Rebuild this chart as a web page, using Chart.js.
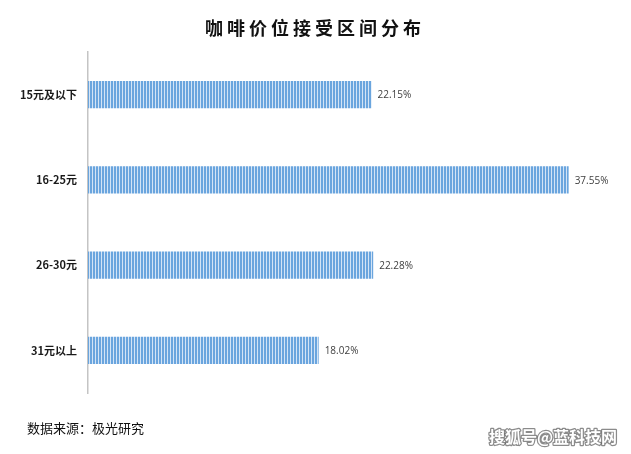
<!DOCTYPE html>
<html>
<head>
<meta charset="utf-8">
<script src="https://cdn.jsdelivr.net/npm/chart.js@4/dist/chart.umd.min.js"></script>
<style>
  html, body { margin: 0; padding: 0; background: #ffffff; }
  #wrap { width: 631px; height: 454px; position: relative; }
</style>
</head>
<body>
<div id="wrap"><canvas id="c" width="631" height="454"></canvas></div>
<script>
// Price bands and share of respondents (%)
const categories = ['15元及以下', '16-25元', '26-30元', '31元以上'];
const shares = [22.15, 37.55, 22.28, 18.02];
const titleText = '咖啡价位接受区间分布';
const sourceText = '数据来源：极光研究';
const watermarkText = '搜狐号@蓝科技网';

const CJK = '"Noto Sans CJK SC", "Noto Sans", sans-serif';

// Vertical pinstripe fill for the bars
function stripePattern(ctx) {
  const p = document.createElement('canvas');
  p.width = 3; p.height = 4;
  const g = p.getContext('2d');
  g.fillStyle = '#d3e4f6';
  g.fillRect(0, 0, 3, 4);
  g.fillStyle = '#6aa5de';
  g.fillRect(0, 0, 2, 4);
  return ctx.createPattern(p, 'repeat');
}

// Title, source note, watermark and value labels
const decorations = {
  id: 'decorations',
  afterDatasetsDraw(chart) {
    const ctx = chart.ctx;
    const meta = chart.getDatasetMeta(0);
    ctx.save();
    ctx.font = '10px "Open Sans", "Noto Sans", sans-serif';
    ctx.fillStyle = '#404040';
    ctx.textAlign = 'left';
    ctx.textBaseline = 'middle';
    meta.data.forEach((bar, i) => {
      ctx.fillText(shares[i].toFixed(2) + '%', bar.x + 6, bar.y + 1);
    });
    ctx.restore();
  },
  afterDraw(chart) {
    const ctx = chart.ctx;
    ctx.save();
    // title
    ctx.font = 'bold 18px ' + CJK;
    ctx.fillStyle = '#111111';
    ctx.textBaseline = 'middle';
    ctx.textAlign = 'left';
    ctx.letterSpacing = '4px';
    const w = ctx.measureText(titleText).width - 4;
    ctx.fillText(titleText, 313 - w / 2, 28);
    ctx.letterSpacing = '0px';
    // source note
    ctx.font = '13px ' + CJK;
    ctx.fillStyle = '#111111';
    ctx.fillText(sourceText, 27, 428);
    // watermark
    ctx.font = 'bold 16px ' + CJK;
    ctx.textAlign = 'right';
    ctx.lineJoin = 'round';
    ctx.lineWidth = 2.5;
    ctx.strokeStyle = 'rgba(90,90,90,0.7)';
    ctx.strokeText(watermarkText, 617, 437);
    ctx.fillStyle = '#ffffff';
    ctx.fillText(watermarkText, 617, 437);
    ctx.restore();
  }
};

const canvas = document.getElementById('c');
const ctx = canvas.getContext('2d');

new Chart(ctx, {
  type: 'bar',
  data: {
    labels: categories,
    datasets: [{
      data: shares,
      backgroundColor: stripePattern(ctx),
      borderWidth: 0,
      categoryPercentage: 1.0,
      barPercentage: 0.32
    }]
  },
  options: {
    indexAxis: 'y',
    responsive: false,
    animation: false,
    devicePixelRatio: 1,
    layout: { padding: { left: 0, top: 52, right: 31, bottom: 61 } },
    plugins: {
      legend: { display: false },
      title: { display: false },
      tooltip: { enabled: false }
    },
    scales: {
      x: {
        display: false,
        min: 0,
        max: 40
      },
      y: {
        afterFit(scale) { scale.width = 88; },
        grid: { display: false, drawTicks: false },
        border: { display: true, color: '#c4c4c4', width: 1.5 },
        ticks: {
          padding: 11,
          color: '#1a1a1a',
          font: { family: CJK, size: 11, weight: 'bold' }
        }
      }
    }
  },
  plugins: [decorations]
});
</script>
</body>
</html>
